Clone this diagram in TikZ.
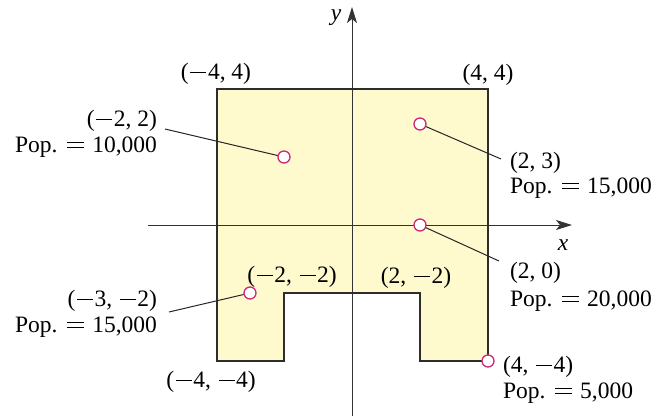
\documentclass[tikz,border=0pt]{standalone}
\usepackage{fontspec}
\setmainfont{Liberation Serif}
\usetikzlibrary{arrows.meta}
\definecolor{regfill}{RGB}{255,249,206}
\definecolor{citycol}{RGB}{204,40,120}
\definecolor{edgecol}{RGB}{45,45,45}
\newcommand{\mi}{\hspace{0.07em}\rule[0.25em]{0.68em}{0.055em}\hspace{0.07em}}
\newcommand{\eqs}{\hspace{0.06em}\rlap{\rule[0.16em]{0.7em}{0.055em}}\rule[0.39em]{0.7em}{0.055em}\hspace{0.06em}}
\newcommand{\popeq}{Pop.\hspace{0.36em}\eqs\hspace{0.3em}}
\begin{document}
\begin{tikzpicture}[x=1pt,y=-1pt,
  every node/.style={font=\fontsize{23.5}{26}\selectfont, inner sep=0pt, outer sep=0pt},
  city/.style={circle, draw=citycol, fill=white, line width=1.3pt, minimum size=12pt, inner sep=0pt},
  lw/.style={anchor=base west},
  le/.style={anchor=base east},
  lc/.style={anchor=base},
  leader/.style={draw=black!85, line width=1pt, shorten >=0.5pt},
  axis/.style={draw=black!80, line width=0.9pt, -{Stealth[length=16pt,width=10pt,inset=4pt]}},
  region/.style={draw=edgecol, line width=1.2pt, fill=regfill, line join=miter},
]
\useasboundingbox (0,0) rectangle (657,416);
% region
\fill[regfill] (217,89) -- (488,89) -- (488,361) -- (420,361) -- (420,293)
  -- (284,293) -- (284,361) -- (217,361) -- cycle;
% axes
\draw[axis] (148,225) -- (572,225);
\draw[axis] (352,416) -- (352,7);
\node[lc, font=\fontsize{23.5}{26}\selectfont\itshape] (xl) at (563,250) {x};
\node[lc, font=\fontsize{23.5}{26}\selectfont\itshape] (yl) at (336,20) {y};
% outline
\draw[region, fill=none] (217,89) -- (488,89) -- (488,361) -- (420,361) -- (420,293)
  -- (284,293) -- (284,361) -- (217,361) -- cycle;
% corner labels
\node[lc] (c44) at (216,79) {(\mi4, 4)};
\node[lc] (c4p4) at (488,80) {(4, 4)};
\node[lc] (cm4m4) at (211,387) {(\mi4, \mi4)};
\node[lc] (cm2m2) at (292,282) {(\mi2, \mi2)};
\node[lc] (c2m2) at (416,283) {(2, \mi2)};
% cities
\node[city] (pA) at (284,157) {};
\node[city] (pB) at (420,124) {};
\node[city] (pC) at (420,225) {};
\node[city] (pD) at (250,293) {};
\node[city] (pE) at (488,361) {};
% city labels
\node[le] (lA1) at (157,126) {(\mi2, 2)};
\node[le] (lA2) at (157,152) {\popeq 10,000};
\node[lw] (lB1) at (510,168) {(2, 3)};
\node[lw] (lB2) at (510,193) {\popeq 15,000};
\node[lw] (lC1) at (510,278) {(2, 0)};
\node[lw] (lC2) at (510,306) {\popeq 20,000};
\node[le] (lD1) at (157,306) {(\mi3, \mi2)};
\node[le] (lD2) at (157,332) {\popeq 15,000};
\node[lw] (lE1) at (503,372) {(4, \mi4)};
\node[lw] (lE2) at (503,398) {\popeq 5,000};
% leader lines
\coordinate (eA) at (165,129);
\coordinate (eB) at (501,159);
\coordinate (eC) at (499,261);
\coordinate (eD) at (169,312);
\draw[leader] (eA) -- (pA);
\draw[leader] (eB) -- (pB);
\draw[leader] (eC) -- (pC);
\draw[leader] (eD) -- (pD);
\end{tikzpicture}
\end{document}
